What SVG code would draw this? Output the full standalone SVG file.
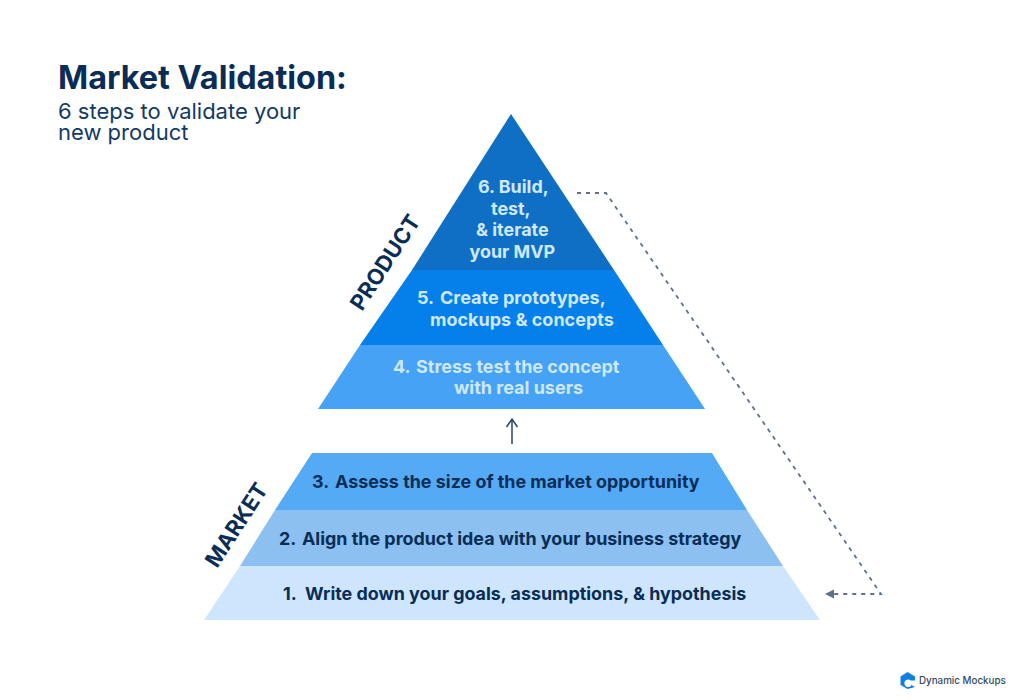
<svg xmlns="http://www.w3.org/2000/svg" width="1024" height="700" viewBox="0 0 1024 700">
<defs>
<style>
text{font-family:Inter,"Liberation Sans",sans-serif}
.s{font-size:17.900px;font-weight:700;text-anchor:start}
.l{fill:#cfe8fd}
.w{font-size:18px}
.d{fill:#0a2d55}
.side{font-size:22px;font-weight:700;fill:#0a2d55}
.dash{fill:none;stroke:#5d7088;stroke-width:1.800;stroke-dasharray:4 5}
</style>
</defs>
<rect width="1024" height="700" fill="#fff"/>
<g id="title">
<text x="58" y="88.500" font-size="32.400" font-weight="700" fill="#0a2d55">Market Validation:</text>
<text font-size="22" fill="#123a63"><tspan x="58" y="118.500">6 steps to validate your</tspan><tspan x="58" y="139.500">new product</tspan></text>
</g>
<g id="connectors">
<path class="dash" d="M577 193H606L881 594H834"/>
<path d="M825 594L834 589.500V598.500Z" fill="#5d7088"/>
<path d="M512 444V420M506.500 427L512 419L517.500 427" fill="none" stroke="#2c4666" stroke-width="1.500"/>
</g>
<g id="step6"><polygon points="511,114 614,270 412,270" fill="#0f6fc4"/>
<text class="s l" x="478" y="192.500">6. Build,</text><text class="s l" x="491" y="214.500">test,</text><text class="s l" x="476" y="236">&amp; iterate</text><text class="s l" x="469.500" y="258">your MVP</text></g>
<g id="step5"><polygon points="412,270 614,270 663,345 360,345" fill="#0580ea"/>
<text class="s l w" x="417" y="304">5.</text><text class="s l w" x="440" y="304">Create prototypes,</text><text class="s l w" x="430" y="326">mockups &amp; concepts</text></g>
<g id="step4"><polygon points="360,345 663,345 705,409 318,409" fill="#46a2f5"/>
<text class="s l w" x="393" y="373">4.</text><text class="s l w" x="416" y="373">Stress test the concept</text><text class="s l w" x="454" y="394">with real users</text></g>
<g id="step3"><polygon points="312,453 712,453 747,510 275,510" fill="#55aaf6"/>
<text class="s d" x="312" y="488">3.</text><text class="s d" x="335" y="488">Assess the size of the market opportunity</text></g>
<g id="step2"><polygon points="275,510 747,510 783,566 240,566" fill="#8bc0f1"/>
<text class="s d" x="279" y="545">2.</text><text class="s d" x="302" y="545">Align the product idea with your business strategy</text></g>
<g id="step1"><polygon points="240,566 783,566 820,620 204,620" fill="#cde6fd"/>
<text class="s d" x="283" y="600">1.</text><text class="s d" x="305" y="600">Write down your goals, assumptions, &amp; hypothesis</text></g>
<g id="product"><text class="side" transform="translate(362 312) rotate(-57)">PRODUCT</text></g>
<g id="market"><text class="side" transform="translate(217 569) rotate(-57)">MARKET</text></g>
<g id="logo">
<path d="M907.500 672L915 676.500V680.500H910.800A3.800 3.800 0 1 0 911.500 685L915 687L907.500 689L900.500 685V676.500Z" fill="#0f7fe0"/>
<text x="919" y="684" font-size="9.800" font-weight="500" fill="#34495f">Dynamic Mockups</text>
</g>
</svg>
